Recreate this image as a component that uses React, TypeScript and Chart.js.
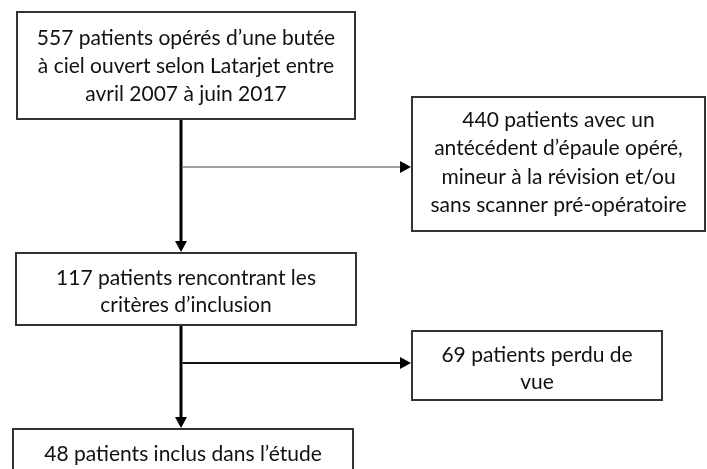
import React, { useEffect, useRef } from "react";
import { Chart, registerables } from "chart.js";

Chart.register(...registerables);

// ---- data ----
const counts = [557, 440, 117, 69, 48];
const boxTexts: string[][] = [
  ["{n} patients opérés d’une butée", "à ciel ouvert selon Latarjet entre", "avril 2007 à juin 2017"],
  ["{n} patients avec un", "antécédent d’épaule opéré,", "mineur à la révision et/ou", "sans scanner pré-opératoire"],
  ["{n} patients rencontrant les", "critères d’inclusion"],
  ["{n} patients perdu de", "vue"],
  ["{n} patients inclus dans l’étude"],
];
// flow: [from box, to box, exclusion box]
const mainFlow = [[0, 2], [2, 4]];
const exclusions = [1, 3];

// ---- layout (pixel space of the 707x469 canvas) ----
const boxRects = [
  { x0: 17, y0: 12, x1: 355, y1: 119 },
  { x0: 412, y0: 97, x1: 705, y1: 231 },
  { x0: 16, y0: 253, x1: 356, y1: 325 },
  { x0: 412, y0: 331, x1: 662, y1: 400 },
  { x0: 13, y0: 429, x1: 353, y1: 480 },
];
const lineCenters = [
  [38, 66, 94],
  [120, 148, 177, 205],
  [278, 305],
  [355, 382],
  [454],
];
const trunkX = 181;
const branchY = [167, 363];
const branchStyle = [
  { color: "#7f7f7f", width: 1.5 },
  { color: "#111111", width: 2 },
];

const W = 707;
const H = 469;

const flowPlugin = {
  id: "flow",
  afterDraw(chart: any) {
    const ctx = chart.ctx as CanvasRenderingContext2D;
    const xs = chart.scales.x;
    const ys = chart.scales.y;
    const px = (v: number) => xs.getPixelForValue(v);
    const py = (v: number) => ys.getPixelForValue(v);
    ctx.save();
    // boxes
    boxRects.forEach((r, i) => {
      ctx.fillStyle = "#ffffff";
      ctx.strokeStyle = "#333333";
      ctx.lineWidth = 2;
      const x0 = px(r.x0), y0 = py(r.y0), x1 = px(r.x1), y1 = py(r.y1);
      ctx.fillRect(x0, y0, x1 - x0, y1 - y0);
      ctx.strokeRect(x0, y0, x1 - x0, y1 - y0);
      ctx.fillStyle = "#111111";
      ctx.font = "21px Lato";
      ctx.textAlign = "center";
      ctx.textBaseline = "middle";
      const cx = (x0 + x1) / 2;
      boxTexts[i].forEach((t, j) => {
        ctx.fillText(t.replace("{n}", String(counts[i])), cx, py(lineCenters[i][j]));
      });
    });
    const arrowDown = (x: number, yTip: number) => {
      ctx.beginPath();
      ctx.moveTo(x - 6, yTip - 11);
      ctx.lineTo(x + 6, yTip - 11);
      ctx.lineTo(x, yTip);
      ctx.closePath();
      ctx.fill();
    };
    const arrowRight = (xTip: number, y: number) => {
      ctx.beginPath();
      ctx.moveTo(xTip - 11, y - 6);
      ctx.lineTo(xTip - 11, y + 6);
      ctx.lineTo(xTip, y);
      ctx.closePath();
      ctx.fill();
    };
    // main trunk
    mainFlow.forEach(([a, b], k) => {
      const ya = py(boxRects[a].y1);
      const yb = py(boxRects[b].y0);
      const x = px(trunkX);
      ctx.strokeStyle = "#000000";
      ctx.fillStyle = "#000000";
      ctx.lineWidth = 3;
      ctx.beginPath();
      ctx.moveTo(x, ya + 1);
      ctx.lineTo(x, yb - 9);
      ctx.stroke();
      arrowDown(x, yb - 1);
      // branch
      const e = exclusions[k];
      const st = branchStyle[k];
      const y = py(branchY[k]);
      ctx.strokeStyle = st.color;
      ctx.lineWidth = st.width;
      ctx.beginPath();
      ctx.moveTo(x + 1.5, y);
      ctx.lineTo(px(boxRects[e].x0) - 9, y);
      ctx.stroke();
      ctx.fillStyle = "#000000";
      arrowRight(px(boxRects[e].x0) - 1, y);
    });
    ctx.restore();
  },
};

export default function App() {
  const ref = useRef<HTMLCanvasElement | null>(null);
  useEffect(() => {
    document.body.style.margin = "0";
    const canvas = ref.current!;
    const chart = new Chart(canvas, {
      type: "scatter",
      data: { datasets: [{ data: [], pointRadius: 0 }] },
      options: {
        animation: false,
        responsive: false,
        devicePixelRatio: 1,
        layout: { padding: 0 },
        plugins: { legend: { display: false }, tooltip: { enabled: false } },
        scales: {
          x: { type: "linear", min: 0, max: W, display: false },
          y: { type: "linear", min: 0, max: H, reverse: true, display: false },
        },
      },
      plugins: [flowPlugin],
    });
    return () => chart.destroy();
  }, []);
  return (
    <div style={{ width: W, height: H, background: "#fff" }}>
      <canvas ref={ref} width={W} height={H} style={{ display: "block" }} />
    </div>
  );
}
